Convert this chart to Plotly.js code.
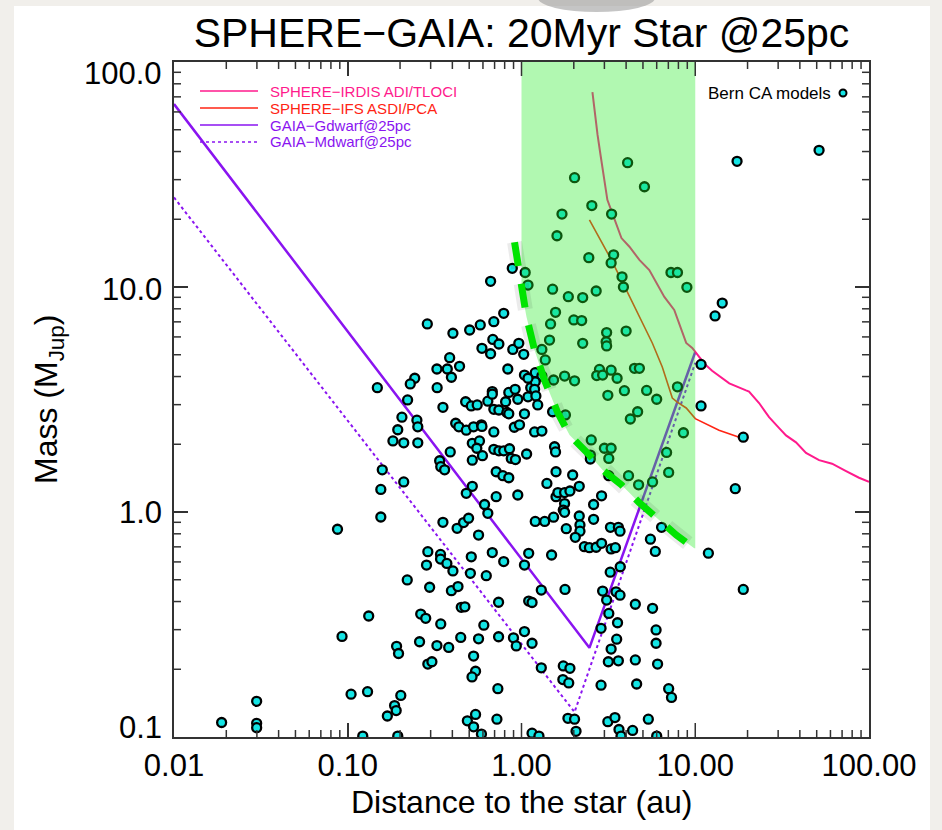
<!DOCTYPE html>
<html>
<head>
<meta charset="utf-8">
<script src="https://cdn.plot.ly/plotly-3.0.1.min.js"></script>
<style>
html,body{margin:0;padding:0;background:#f1efeb;}
#chart{width:942px;height:830px;}
</style>
</head>
<body>
<div id="chart"></div>
<script>
// ---------------- DATA ----------------
// Bern CA population synthesis planets: distance (au) and mass (M_Jup)
const bernDist = [
  0.148, 0.221, 0.205, 0.194, 0.182, 0.210, 0.158, 0.155, 0.210, 0.155,
  0.0873, 0.220, 0.132, 0.0927, 0.191, 0.196, 0.1045, 0.130, 0.202, 0.186,
  0.190, 0.169, 0.0299, 0.0188, 0.0299, 0.0299, 0.122, 0.194,
  0.885, 1.05, 0.664, 1.09, 1.51, 1.57, 0.79, 1.47, 0.287, 0.403,
  0.503, 0.579, 0.693, 1.45, 0.684, 0.741, 0.592, 0.664, 0.891, 0.965,
  1.03, 1.31, 1.37, 0.386, 0.440, 0.326, 0.374, 0.395, 0.834, 1.04,
  1.20, 1.31, 1.53, 0.243, 0.229, 0.327, 0.353, 0.250, 0.253, 0.253,
  0.477, 0.514, 0.556, 0.640, 0.679, 0.679, 0.810, 0.845, 0.919, 0.952,
  1.09, 1.13, 1.20, 1.19, 1.21, 1.24, 1.09, 0.693, 0.741, 0.824,
  0.845, 1.04, 1.51, 0.418, 0.436, 0.481, 0.530, 0.588, 0.592, 0.693,
  0.909, 0.974, 1.19, 1.31, 0.521, 0.573, 0.553, 0.521, 0.596, 0.389,
  0.693, 0.741, 0.790, 0.853, 0.873, 0.923, 1.07, 1.55, 1.57, 0.338,
  0.343, 0.361, 0.715, 0.781, 0.845, 1.58, 1.40, 0.521, 0.481, 0.715,
  0.952, 1.58,
  0.613, 0.640, 0.353, 0.426, 0.464, 0.496, 0.566, 1.20, 1.36, 1.53,
  0.289, 0.284, 0.342, 0.342, 0.372, 0.403, 0.514, 0.508, 0.679, 0.790,
  0.627, 1.10, 1.04, 1.49, 0.296, 0.395, 0.431, 0.738, 1.10, 1.15,
  1.30, 0.450, 0.472, 0.263, 0.281, 0.343, 0.607, 0.447, 0.566, 0.738,
  0.899, 0.933, 1.04, 1.15, 0.259, 0.326, 0.381, 0.530, 0.289, 0.305,
  0.544, 0.519, 1.30, 0.731, 0.544, 0.488, 0.530, 0.722, 0.588, 1.15,
  1.26,
  4.08, 2.02, 5.10, 2.54, 1.71, 3.30, 1.60, 2.44, 3.39, 3.28,
  7.25, 7.90, 8.95, 3.79, 3.86, 1.86, 2.25, 2.69, 2.00, 2.22,
  2.25, 3.09, 3.07, 3.09, 4.00, 1.77, 2.02, 2.81, 2.71, 2.93,
  3.28, 3.55, 4.47, 4.77, 3.14, 3.91, 5.25, 6.00, 7.90, 4.66,
  4.23, 8.55, 1.79, 2.52, 3.00, 3.28, 3.18, 6.84, 2.49,
  2.49, 7.03, 4.13, 4.72, 5.68, 3.18, 1.97, 2.15, 1.62, 1.77,
  1.90, 1.77, 1.74, 1.77, 2.60, 2.89, 2.15, 2.17, 2.17, 2.60,
  1.81, 2.04, 3.25, 3.61, 3.69, 2.30, 2.46, 2.69, 2.89, 3.28,
  3.47, 6.40, 5.52, 5.89, 3.70, 3.24, 1.78, 2.93, 3.09, 3.50,
  3.69, 3.18, 3.57, 2.87, 4.52, 5.68, 5.95, 5.95, 3.53, 3.28,
  3.16, 3.61, 4.52, 6.07, 1.74, 1.90, 1.73, 1.87, 2.87, 4.60,
  7.03, 7.30, 1.85, 2.02, 2.06, 3.14, 3.45, 3.64, 3.74, 4.36,
  5.37, 6.00,
  17.4, 51.6, 14.3, 13.0, 10.8, 10.8, 18.9, 17.0, 11.9, 18.9
];
const bernMass = [
  3.57, 3.15, 2.64, 2.32, 2.07, 2.03, 1.54, 1.26, 1.36, 0.950,
  0.838, 0.499, 0.345, 0.280, 0.253, 0.235, 0.155, 0.159, 0.153, 0.138,
  0.131, 0.124, 0.144, 0.116, 0.115, 0.110, 0.101, 0.101,
  12.1, 11.6, 10.6, 10.2, 9.78, 7.72, 7.64, 6.85, 6.85, 6.23,
  6.44, 6.78, 7.01, 5.81, 5.85, 5.58, 5.34, 5.05, 5.28, 5.62,
  5.02, 5.28, 4.74, 4.85, 4.44, 4.32, 4.32, 3.97, 4.32, 4.06,
  4.16, 4.02, 3.86, 3.93, 3.71, 3.57, 2.92, 2.56, 2.39, 2.03,
  3.09, 2.96, 2.99, 3.11, 3.43, 3.34, 3.09, 3.40, 3.51, 3.17,
  3.25, 3.57, 3.79, 3.51, 3.28, 2.99, 3.93, 2.86, 2.84, 2.77,
  2.73, 2.73, 2.79, 2.48, 2.39, 2.31, 2.39, 2.44, 2.40, 2.27,
  2.38, 2.44, 2.27, 2.29, 2.02, 2.07, 1.92, 1.70, 1.78, 1.85,
  1.90, 1.87, 1.87, 1.91, 1.73, 1.71, 1.81, 1.95, 1.85, 1.69,
  1.59, 1.54, 1.51, 1.45, 1.42, 1.51, 1.34, 1.30, 1.21, 1.17,
  1.19, 1.17,
  1.08, 0.987, 0.900, 0.846, 0.897, 0.938, 0.790, 0.908, 0.908, 0.948,
  0.666, 0.581, 0.648, 0.618, 0.591, 0.547, 0.632, 0.534, 0.660, 0.602,
  0.521, 0.655, 0.581, 0.644, 0.463, 0.447, 0.466, 0.397, 0.402, 0.396,
  0.450, 0.377, 0.379, 0.352, 0.337, 0.318, 0.314, 0.277, 0.273, 0.279,
  0.276, 0.254, 0.294, 0.261, 0.265, 0.255, 0.250, 0.229, 0.211, 0.216,
  0.196, 0.185, 0.203, 0.164, 0.126, 0.118, 0.111, 0.120, 0.103, 0.104,
  0.101,
  35.7, 30.6, 27.9, 23.0, 21.1, 21.1, 16.9, 13.5, 13.9, 12.8,
  11.6, 11.6, 9.97, 11.1, 10.0, 9.06, 8.97, 9.60, 7.14, 7.09,
  5.62, 6.27, 5.71, 5.47, 6.37, 4.02, 3.83, 4.30, 4.04, 4.06,
  4.27, 3.93, 4.35, 4.35, 3.30, 3.46, 3.47, 3.17, 3.60, 2.79,
  2.59, 2.25, 2.70, 2.09, 1.92, 1.92, 1.73, 1.84, 1.79,
  1.72, 1.50, 1.45, 1.32, 1.36, 1.45, 1.46, 1.30, 1.22, 1.22,
  1.24, 1.09, 1.02, 0.997, 1.08, 1.18, 0.960, 0.876, 0.822, 0.928,
  0.843, 0.772, 0.855, 0.855, 0.822, 0.701, 0.694, 0.697, 0.726, 0.685,
  0.694, 0.855, 0.757, 0.668, 0.571, 0.540, 0.453, 0.445, 0.406, 0.442,
  0.427, 0.354, 0.322, 0.304, 0.389, 0.373, 0.299, 0.261, 0.272, 0.246,
  0.216, 0.218, 0.220, 0.211, 0.207, 0.202, 0.180, 0.174, 0.170, 0.172,
  0.164, 0.150, 0.121, 0.120, 0.106, 0.117, 0.122, 0.108, 0.101, 0.107,
  0.120, 0.101,
  36.2, 40.5, 8.48, 7.44, 4.53, 2.96, 2.15, 1.27, 0.656, 0.453
];

// SPHERE-IRDIS ADI/TLOCI detection limit
const irdisDist = [2.56, 2.63, 2.74, 2.85, 3.00, 3.12, 3.33, 3.76, 4.18, 4.77,
  5.44, 5.97, 6.64, 7.57, 8.09, 8.87, 9.61, 10.0, 11.3, 12.5,
  15.7, 19.6, 20.4, 23.3, 26.6, 30.4, 33.3, 38.0, 43.4, 51.6,
  61.3, 73.8, 87.6, 100];
const irdisMass = [73.5, 61.2, 47.4, 38.6, 29.9, 24.4, 21.3, 16.5, 15.1, 13.2,
  11.9, 10.4, 9.03, 7.91, 6.92, 5.64, 5.36, 5.14, 4.56, 4.24,
  3.73, 3.47, 3.43, 3.05, 2.64, 2.36, 2.19, 2.04, 1.83, 1.70,
  1.64, 1.52, 1.42, 1.36];

// SPHERE-IFS ASDI/PCA detection limit
const ifsDist = [2.46, 3.29, 4.01, 4.77, 5.66, 6.46, 7.38, 7.88, 8.87, 10.0, 13.7, 17.9];
const ifsMass = [19.9, 13.2, 9.7, 7.36, 5.64, 4.41, 3.21, 3.08, 2.90, 2.60, 2.31, 2.15];

// GAIA astrometric limits at 25 pc
const gaiaGDist = [0.01, 2.46, 10.0];
const gaiaGMass = [65, 0.249, 5.14];
const gaiaMDist = [0.01, 2.02, 10.0];
const gaiaMMass = [25, 0.129, 4.6];

// combined-detection boundary (dashed green) and zone
const limitDist = [0.912, 0.948, 1.0, 1.069, 1.188, 1.356, 1.61, 1.89, 2.46, 2.92, 3.76, 4.76, 6.21, 7.78, 9.87];
const limitMass = [15.8, 12.9, 9.7, 7.36, 5.25, 3.86, 2.78, 2.20, 1.79, 1.54, 1.32, 1.10, 0.92, 0.79, 0.69];
const zoneDist = [1, 10];
const zoneTopMass = 100;

// tick labels / tick positions
const xTickVals = [0.01, 0.1, 1, 10, 100];
const xTickText = ['0.01', '0.10', '1.00', '10.00', '100.00'];
const yTickVals = [0.1, 1, 10, 100];
const yTickText = ['0.1', '1.0', '10.0', '100.0'];
const minorDigits = [2, 3, 4, 5, 6, 7, 8, 9];

const legendNames = ['SPHERE\u2212IRDIS ADI/TLOCI', 'SPHERE\u2212IFS ASDI/PCA', 'GAIA\u2212Gdwarf@25pc', 'GAIA\u2212Mdwarf@25pc'];
const bernLabel = 'Bern CA models';
const titleText = 'SPHERE\u2212GAIA: 20Myr Star @25pc';

// ---------------- STYLE ----------------
const FONT = 'Liberation Sans, Arial, Helvetica, sans-serif';
const W = 942, H = 830, ML = 174, MR = 73, MT = 62, MB = 93;
const PW = W - ML - MR, PH = H - MT - MB;
const px = v => (v - ML) / PW;          // pixel -> paper x
const py = v => (H - MB - v) / PH;      // pixel -> paper y
const cPink = '#ff1a8c', cRed = '#ff2414', cPurple = '#8a14f0', cCyan = '#14e4e4';
const cAxis = '#333333';
const MAJ = 14, MIN = 7;                // tick lengths in px
const yLabelShift = [10, 0, -2, -11];   // edge labels sit inside the frame, as in the original

function minorTicks(majors) {
  const out = [];
  for (let i = 0; i < majors.length - 1; i++) minorDigits.forEach(k => out.push(k * majors[i]));
  return out;
}

// zone polygon: top edge then back along the boundary (x >= 1)
const zx = [zoneDist[0], zoneDist[1], zoneDist[1]];
const zy = [zoneTopMass, zoneTopMass, limitMass[limitMass.length - 1]];
for (let i = limitDist.length - 1; i >= 0; i--) {
  if (limitDist[i] >= zoneDist[0]) { zx.push(limitDist[i]); zy.push(limitMass[i]); }
}
zx.push(zoneDist[0]); zy.push(zoneTopMass);

const traces = [
  {x: gaiaMDist, y: gaiaMMass, mode: 'lines', line: {color: cPurple, width: 2, dash: 'dot'}, hoverinfo: 'skip'},
  {x: gaiaGDist, y: gaiaGMass, mode: 'lines', line: {color: cPurple, width: 2.5}, hoverinfo: 'skip'},
  {x: ifsDist, y: ifsMass, mode: 'lines', line: {color: cRed, width: 1.6}, hoverinfo: 'skip'},
  {x: irdisDist, y: irdisMass, mode: 'lines', line: {color: cPink, width: 2}, hoverinfo: 'skip'},
  {x: bernDist, y: bernMass, mode: 'markers',
   marker: {size: 9, color: cCyan, line: {color: '#000', width: 2.3}}, hoverinfo: 'x+y'},
  {x: zx, y: zy, mode: 'lines', fill: 'toself', fillcolor: 'rgba(40,235,40,0.36)',
   line: {width: 0}, hoverinfo: 'skip'},
  {x: limitDist, y: limitMass, mode: 'lines',
   line: {color: 'rgba(0,0,0,0.08)', width: 15, dash: '26px,16px'}, hoverinfo: 'skip'},
  {x: limitDist, y: limitMass, mode: 'lines',
   line: {color: '#00e400', width: 7, dash: '24px,18px'}, hoverinfo: 'skip'}
];

const axisCommon = {
  type: 'log', tickmode: 'array', ticks: 'inside', ticklen: MAJ, tickwidth: 1.5, tickcolor: cAxis,
  showline: true, linecolor: cAxis, linewidth: 1.6, mirror: 'ticks', showgrid: false, zeroline: false,
  tickfont: {family: FONT, size: 31, color: '#000'}
};

const legendRows = [91, 108, 125, 142];
const legendColors = [cPink, cRed, cPurple, cPurple];
const legendDash = ['solid', 'solid', 'solid', 'dot'];

const shapes = [
  {type: 'rect', xref: 'paper', yref: 'paper', x0: px(14), x1: px(930), y0: py(840), y1: py(6),
   fillcolor: '#ffffff', line: {width: 0}, layer: 'below'},
  {type: 'circle', xref: 'paper', yref: 'paper', x0: px(538), x1: px(655), y0: py(12), y1: py(-16),
   fillcolor: 'rgba(150,150,150,0.55)', line: {width: 0}, layer: 'below'}
];

// tick marks on all four sides (data-referenced positions, lengths in paper fractions)
function addXTicks(vals, len) {
  vals.forEach(v => {
    shapes.push({type: 'line', xref: 'x', yref: 'paper', x0: v, x1: v, y0: 0, y1: len / PH, line: {color: cAxis, width: 1.5}});
    shapes.push({type: 'line', xref: 'x', yref: 'paper', x0: v, x1: v, y0: 1, y1: 1 - len / PH, line: {color: cAxis, width: 1.5}});
  });
}
function addYTicks(vals, len) {
  vals.forEach(v => {
    shapes.push({type: 'line', xref: 'paper', yref: 'y', y0: v, y1: v, x0: 0, x1: len / PW, line: {color: cAxis, width: 1.5}});
    shapes.push({type: 'line', xref: 'paper', yref: 'y', y0: v, y1: v, x0: 1, x1: 1 - len / PW, line: {color: cAxis, width: 1.5}});
  });
}
addXTicks(minorTicks(xTickVals), MIN);
addYTicks(minorTicks(yTickVals), MIN);
addXTicks(xTickVals.slice(1, -1), MAJ);
addYTicks(yTickVals.slice(1, -1), MAJ);

const annotations = [];
legendRows.forEach((r, i) => {
  shapes.push({type: 'line', xref: 'paper', yref: 'paper', x0: px(200), x1: px(258), y0: py(r), y1: py(r),
    line: {color: legendColors[i], width: 1.6, dash: legendDash[i]}});
  annotations.push({xref: 'paper', yref: 'paper', x: px(269), y: py(r), xanchor: 'left', yanchor: 'middle',
    text: legendNames[i], showarrow: false, borderpad: 0,
    font: {family: FONT, size: 15, color: legendColors[i]}});
});
shapes.push({type: 'circle', xref: 'paper', yref: 'paper', x0: px(839.5), x1: px(846.5), y0: py(96.5), y1: py(89.5),
  fillcolor: cCyan, line: {color: '#000', width: 2}});
annotations.push({xref: 'paper', yref: 'paper', x: px(833), y: py(93), xanchor: 'right', yanchor: 'middle',
  text: bernLabel, showarrow: false, font: {family: FONT, size: 17, color: '#000'}});
annotations.push({xref: 'paper', yref: 'paper', x: 0.5, y: py(802), xanchor: 'center', yanchor: 'middle',
  text: 'Distance to the star (au)', showarrow: false, font: {family: FONT, size: 32, color: '#000'}});
annotations.push({xref: 'paper', yref: 'paper', x: px(48), y: py(400), xanchor: 'center', yanchor: 'middle',
  text: 'Mass (M<sub>Jup</sub>)', textangle: -90, showarrow: false, font: {family: FONT, size: 32, color: '#000'}});
// y tick labels (log axis annotations take log10 positions)
yTickVals.forEach((v, i) => {
  annotations.push({xref: 'paper', yref: 'y', x: px(164), y: Math.log10(v), xanchor: 'right', yanchor: 'middle',
    yshift: yLabelShift[i], text: yTickText[i], showarrow: false, font: {family: FONT, size: 31, color: '#000'}});
});

const xRange = [Math.log10(xTickVals[0]), Math.log10(xTickVals[xTickVals.length - 1])];
const yRange = [Math.log10(yTickVals[0]), Math.log10(yTickVals[yTickVals.length - 1])];

const layout = {
  width: W, height: H,
  margin: {l: ML, r: MR, t: MT, b: MB, pad: 0},
  paper_bgcolor: '#f1efeb', plot_bgcolor: '#ffffff',
  showlegend: false,
  font: {family: FONT, color: '#000'},
  title: {text: titleText, font: {family: FONT, size: 41, color: '#000'},
          x: 0.5, xref: 'paper', xanchor: 'center', y: 1 - 33 / H, yref: 'container', yanchor: 'middle'},
  xaxis: Object.assign({}, axisCommon, {range: xRange, tickvals: xTickVals, ticktext: xTickText}),
  yaxis: Object.assign({}, axisCommon, {range: yRange, tickvals: yTickVals, ticktext: yTickText, showticklabels: false}),
  shapes: shapes,
  annotations: annotations
};

Plotly.newPlot('chart', traces, layout, {displayModeBar: false, staticPlot: true});
</script>
</body>
</html>
